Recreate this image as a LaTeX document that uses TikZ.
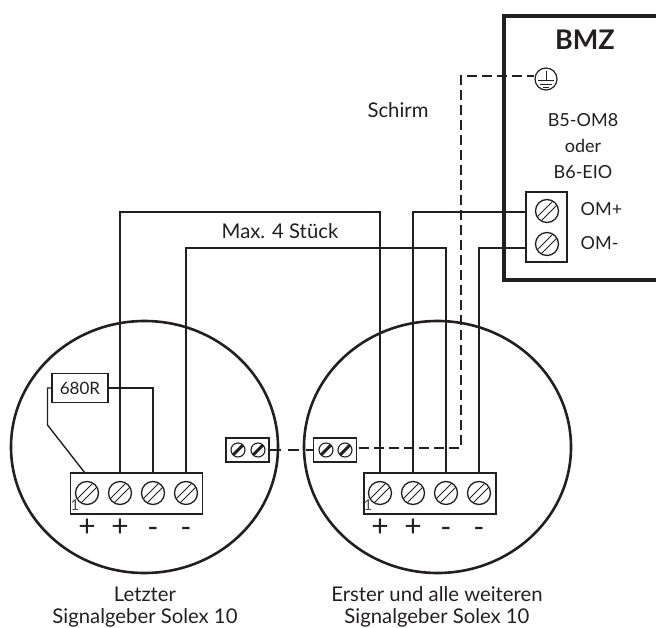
\documentclass[tikz,border=0pt]{standalone}
\usepackage{fontspec}
\setmainfont{Lato}
\usetikzlibrary{positioning,shapes.geometric,calc}
\definecolor{mydark}{RGB}{35,31,32}

\begin{document}
\begin{tikzpicture}[x=1pt,y=-1pt,
  line width=1.4pt,draw=mydark,text=mydark,
  screw/.style={circle,draw,inner sep=0pt,minimum size=23pt,line width=1.3pt,
    path picture={
      \draw[line width=1pt] ($(path picture bounding box.south west)+(5,-1)$) -- ($(path picture bounding box.north east)+(-1,5)$);
      \draw[line width=1pt] ($(path picture bounding box.south west)+(1,-5)$) -- ($(path picture bounding box.north east)+(-5,1)$);
    }},
  smallscrew/.style={circle,draw,inner sep=0pt,minimum size=14pt,line width=1.1pt,
    path picture={
      \draw[line width=3pt] (path picture bounding box.south west) -- (path picture bounding box.north east);
    }},
  strip/.style={draw,inner sep=0pt,minimum width=132pt,minimum height=41pt,line width=1.2pt},
  smallblock/.style={draw,inner sep=0pt,minimum width=43pt,minimum height=24pt,line width=1.2pt},
  housing/.style={ellipse,draw,inner sep=0pt,minimum width=267pt,minimum height=252pt,line width=2.6pt},
  lbl/.style={inner sep=0pt,font=\fontsize{18}{22}\selectfont,align=center},
  biglbl/.style={inner sep=0pt,font=\fontsize{20.3}{22}\selectfont,align=center},
  pole/.style={inner sep=0pt,font=\fontsize{30}{30}\selectfont},
  shield/.style={dash pattern=on 10pt off 5pt}
]
\useasboundingbox (0,0) rectangle (656,628);

% the two housings
\node[housing] (solexL) at (144.5,447) {};
\node[housing] (solexR) at (437.5,447) {};

% the BMZ
\draw[line width=3.4pt] (656,16) coordinate (bmzA) -- (504,16) -- (504,280) -- (656,280) coordinate (bmzB);
\node[inner sep=0pt,font=\fontsize{27}{27}\selectfont\bfseries] (bmz) at (585,40) {BMZ};
\node[lbl] (type) at (583,146) {B5-OM8\\[4pt]oder\\[4pt]B6-EIO};
\node[draw,inner sep=0pt,minimum width=41pt,minimum height=70pt,line width=1.2pt,fill=white] (termB) at (546.5,227) {};
\node[screw] (omP) at (547,211) {};
\node[screw] (omM) at (547,244) {};
\node[lbl,anchor=west] (omPlabel) at (580,209) {OM+};
\node[lbl,anchor=west] (omMlabel) at (580,243) {OM-};

% the earth symbol
\node[circle,draw,inner sep=0pt,minimum size=22pt,line width=1.2pt] (earth) at (546,79) {};
\draw[line width=1pt] (546,71) -- (546,81) (538,81) -- (554,81) (540,84.5) -- (552,84.5) (543,88) -- (549,88);

% the terminal strips
\node[strip] (stripL) at (136.5,493.5) {};
\node[strip] (stripR) at (430,493.5) {};
\foreach \n/\x in {1/87,2/120,3/153,4/186} {
  \node[screw] (sL\n) at (\x,493) {};
}
\foreach \n/\x in {1/380,2/413,3/446,4/479} {
  \node[screw] (sR\n) at (\x,493) {};
}
\node[inner sep=0pt,font=\fontsize{15}{15}\selectfont,text=black!70] (oneL) at (75,505) {1};
\node[inner sep=0pt,font=\fontsize{15}{15}\selectfont,text=black!70] (oneR) at (368,505) {1};

% the poles
\foreach \x/\y/\s in {87/529/+,120/529/+,153/530/-,186/530/-,380/529/+,413/529/+,446/530/-,479/530/-} {
  \node[pole,text height=14pt,text depth=0pt] at (\x,\y) {\s};
}

% the small blocks
\node[smallblock] (blockL) at (247.5,450) {};
\node[smallblock] (blockR) at (335,450) {};
\node[smallscrew] (bL1) at (238,450) {};
\node[smallscrew] (bL2) at (258,450) {};
\node[smallscrew] (bR1) at (326,450) {};
\node[smallscrew] (bR2) at (345,450) {};

% the resistor
\node[draw,inner sep=0pt,minimum width=56pt,minimum height=29pt,line width=1.2pt,font=\fontsize{17}{17}\selectfont] (res) at (80,388) {680R};
\coordinate (bend) at (47.5,425);
\draw (res.east) -| (sL3 |- stripL.north);
\draw (res.west) -| (bend) -- (85,473);

% the wires
\coordinate (topA) at (120,212);
\coordinate (topB) at (186,248);
\draw (sL2 |- stripL.north) |- (topA) -| (sR1 |- stripR.north);
\draw (sL4 |- stripL.north) |- (topB) -| (sR3 |- stripR.north);
\draw (sR2 |- stripR.north) |- (termB.west |- topA);
\draw (sR4 |- stripR.north) |- (termB.west |- topB);

% the shield
\coordinate (cornerA) at (461,448);
\coordinate (cornerB) at (461,76);
\draw[dash pattern=on 11pt off 7pt] (blockL.east) -- (blockR.west);
\draw[shield] ($(blockR.east)+(2,-2)$) -- (cornerA) -- (cornerB) -- (earth.west |- cornerB);

% the texts
\node[biglbl] (schirm) at (398,110) {Schirm};
\node[biglbl] (max) at (280,231) {Max. 4 Stück};
\node[biglbl] (nameL) at (145,607) {Letzter\\Signalgeber Solex 10};
\node[biglbl] (nameR) at (437,607) {Erster und alle weiteren\\Signalgeber Solex 10};
\end{tikzpicture}
\end{document}
